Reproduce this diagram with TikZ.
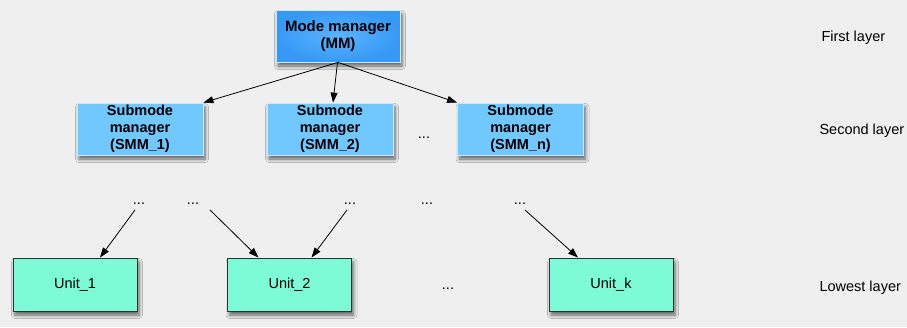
\documentclass[tikz,border=0pt]{standalone}
\usepackage{fontspec}
\setmainfont{Liberation Sans}
\usetikzlibrary{arrows.meta,shadows.blur}

\definecolor{canvas}{HTML}{EFEFEF}
\definecolor{mmin}{HTML}{5AB4FF}
\definecolor{mmout}{HTML}{3799F6}
\definecolor{smmfill}{HTML}{70C8FF}
\definecolor{unitfill}{HTML}{7DFBD6}
\definecolor{unitedge}{HTML}{24342E}

\tikzset{
  boxshadow/.style={blur shadow={shadow blur steps=6, shadow xshift=2pt,
      shadow yshift=-4pt, shadow opacity=60, shadow blur radius=3.5pt}},
  mmbox/.style={boxshadow, draw=white!70!mmin, line width=0.8pt,
      shading=radial, inner color=mmin, outer color=mmout,
      minimum width=124pt, minimum height=52pt, inner sep=0pt,
      align=center, font=\fontsize{15}{17.5}\selectfont\bfseries},
  smmbox/.style={boxshadow, draw=white!60!smmfill, line width=0.8pt, fill=smmfill,
      minimum width=126pt, minimum height=52pt, inner sep=0pt,
      align=center, font=\fontsize{14.5}{17}\selectfont\bfseries},
  unitbox/.style={boxshadow, draw=unitedge, line width=0.9pt, fill=unitfill,
      minimum width=124pt, minimum height=53pt, inner sep=0pt},
  dots/.style={inner sep=1pt},
  layer/.style={anchor=west},
  link/.style={line width=0.8pt, -{Triangle[length=10pt,width=7pt]}}
}

\begin{document}
\begin{tikzpicture}[x=1pt, y=-1pt, font=\fontsize{14.5}{17}\selectfont]
  % canvas
  \fill[canvas] (0,0) rectangle (907,327);
  \useasboundingbox (0,0) rectangle (907,327);

  % first layer
  \node[mmbox] (mm) at (338,36) {Mode manager\\(MM)};

  % second layer
  \node[smmbox] (smm1) at (140,129) {Submode\\manager\\(SMM\_1)};
  \node[smmbox] (smm2) at (330,129) {Submode\\manager\\(SMM\_2)};
  \node[smmbox] (smmn) at (520.5,129) {Submode\\manager\\(SMM\_n)};
  \node[dots] (sdots) at (424,138) {...};

  % intermediate levels
  \node[dots] (d1) at (139,204) {...};
  \node[dots] (d2) at (193,204) {...};
  \node[dots] (d3) at (350,204) {...};
  \node[dots] (d4) at (427,204) {...};
  \node[dots] (d5) at (520,204) {...};

  % lowest layer
  \node[unitbox] (u1) at (75,284.5) {Unit\_1};
  \node[unitbox] (u2) at (289.5,284.5) {Unit\_2};
  \node[unitbox] (uk) at (611,284.5) {Unit\_k};
  \node[dots] (udots) at (448,289) {...};

  % layer captions
  \node[layer] (l1) at (818,38) {First layer};
  \node[layer] (l2) at (816,131) {Second layer};
  \node[layer] (l3) at (816,288) {Lowest layer};

  % arrow start points just below the dots
  \coordinate (s1) at ([shift={(-4,4)}]d1.south);
  \coordinate (s2) at ([shift={(17,4)}]d2.south);
  \coordinate (s3) at ([shift={(-3,4)}]d3.south);
  \coordinate (s5) at ([shift={(5,4)}]d5.south);

  % connectors
  \draw[link] (mm.south) -- (smm1.north east);
  \draw[link] ([xshift=-0.5pt]mm.south) -- ([xshift=3pt]smm2.north);
  \draw[link] (mm.south) -- (smmn.north west);

  \draw[link] (s1) -- ([xshift=25pt]u1.north);
  \draw[link] (s2) -- ([xshift=-31pt]u2.north);
  \draw[link] (s3) -- ([xshift=22pt]u2.north);
  \draw[link] (s5) -- ([xshift=-33pt]uk.north);
\end{tikzpicture}
\end{document}
